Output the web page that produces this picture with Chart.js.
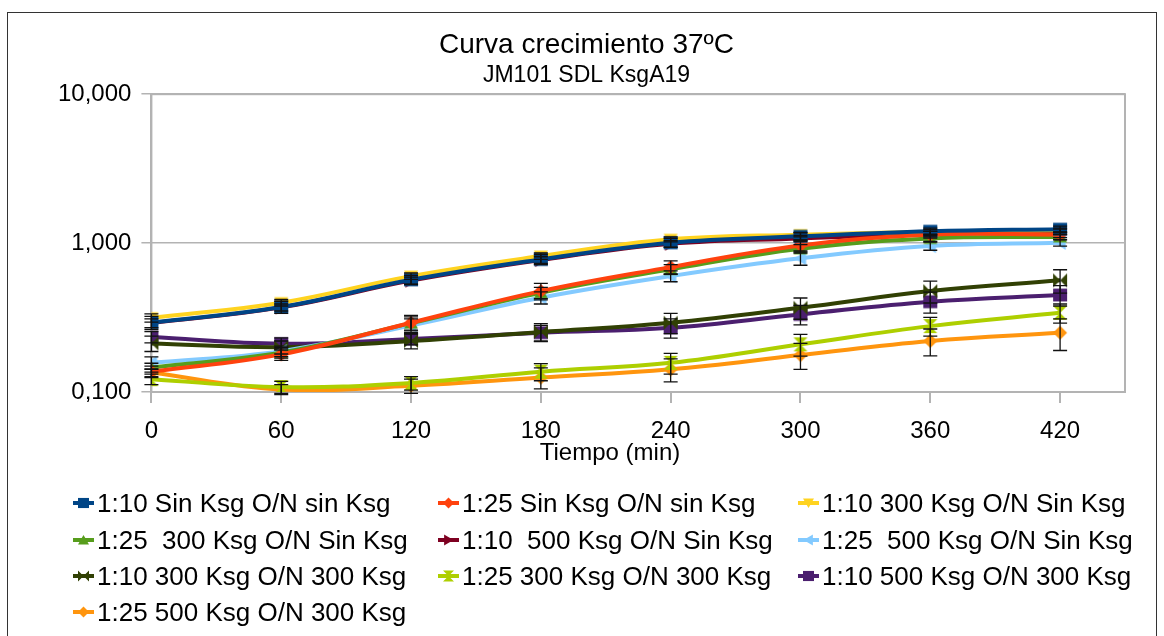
<!DOCTYPE html>
<html>
<head>
<meta charset="utf-8">
<script src="https://cdn.jsdelivr.net/npm/chart.js@4"></script>
<style>
  body { margin: 0; background: #fff; font-family: "Liberation Sans", Arial, sans-serif; }
  #wrap { position: relative; width: 1164px; height: 636px; overflow: hidden; }
  #frame { position: absolute; left: 7px; top: 12px; width: 1150px; height: 700px; border: 1.5px solid #333; box-sizing: border-box; }
  #chart { position: absolute; left: 0; top: 0; }
  #xtitle { position: absolute; left: 610px; top: 438px; transform: translateX(-50%); font-size: 24px; line-height: 28px; white-space: nowrap; }
  .item { position: absolute; height: 36px; display: flex; align-items: center; font-size: 26px; color: #000; white-space: pre; }
  .item canvas { margin-right: 3px; }
</style>
</head>
<body>
<div id="wrap">
  <div id="frame"></div>
  <canvas id="chart" width="1164" height="636"></canvas>
  <div id="xtitle">Tiempo (min)</div>
  <div id="legend"></div>
</div>
<script>
// data
const times = [0, 60, 120, 180, 240, 300, 360, 420];
const yTicks = [0.1, 1, 10];

const labels = [
    '1:10 Sin Ksg O/N sin Ksg', '1:25 Sin Ksg O/N sin Ksg', '1:10 300 Ksg O/N Sin Ksg',
    '1:25  300 Ksg O/N Sin Ksg', '1:10  500 Ksg O/N Sin Ksg', '1:25  500 Ksg O/N Sin Ksg',
    '1:10 300 Ksg O/N 300 Ksg', '1:25 300 Ksg O/N 300 Ksg', '1:10 500 Ksg O/N 300 Ksg',
    '1:25 500 Ksg O/N 300 Ksg'
];

const s1 = [0.292, 0.372, 0.567, 0.777, 1.005, 1.11, 1.2, 1.24];
const s2 = [0.137, 0.179, 0.292, 0.476, 0.69, 0.965, 1.14, 1.14];
const s3 = [0.315, 0.398, 0.60, 0.818, 1.06, 1.14, 1.19, 1.22];
const s4 = [0.146, 0.184, 0.29, 0.464, 0.666, 0.916, 1.075, 1.1];
const s5 = [0.29, 0.37, 0.56, 0.77, 0.99, 1.075, 1.15, 1.19];
const s6 = [0.157, 0.188, 0.28, 0.43, 0.60, 0.79, 0.955, 1.005];
const s7 = [0.212, 0.2, 0.22, 0.253, 0.292, 0.368, 0.476, 0.562];
const s8 = [0.122, 0.108, 0.115, 0.137, 0.157, 0.209, 0.277, 0.34];
const s9 = [0.234, 0.211, 0.227, 0.25, 0.27, 0.332, 0.404, 0.448];
const s10 = [0.135, 0.104, 0.11, 0.125, 0.142, 0.177, 0.22, 0.25];

// error bars (+/-)
const e1 = [0.03, 0.035, 0.04, 0.06, 0.07, 0.06, 0.06, 0.06];
const e2 = [0.012, 0.016, 0.035, 0.06, 0.07, 0.08, 0.06, 0.05];
const e3 = [0.02, 0.02, 0.03, 0.04, 0.04, 0.04, 0.04, 0.04];
const e4 = [0.01, 0.015, 0.03, 0.04, 0.05, 0.06, 0.05, 0.05];
const e5 = [0.02, 0.02, 0.03, 0.04, 0.05, 0.05, 0.05, 0.05];
const e6 = [0.015, 0.015, 0.03, 0.04, 0.05, 0.08, 0.06, 0.05];
const e7 = [0.025, 0.02, 0.025, 0.035, 0.045, 0.06, 0.08, 0.1];
const e8 = [0.01, 0.01, 0.012, 0.018, 0.025, 0.035, 0.04, 0.05];
const e9 = [0.02, 0.02, 0.02, 0.03, 0.04, 0.05, 0.065, 0.07];
const e10 = [0.008, 0.008, 0.012, 0.02, 0.025, 0.035, 0.045, 0.06];

const series = [s1, s2, s3, s4, s5, s6, s7, s8, s9, s10];
const errors = [e1, e2, e3, e4, e5, e6, e7, e8, e9, e10];
const colors = ['#004586', '#ff420e', '#ffd320', '#579d1c', '#7e0021', '#83caff', '#314004', '#aecf00', '#4b1f6f', '#ff950e'];
const markers = ['rect', 'diamond', 'triDown', 'triUp', 'triRight', 'triLeft', 'bowH', 'bowV', 'rect', 'diamond'];

// draw one marker shape into a context
function drawMarker(ctx, type, x, y, r, color) {
    ctx.fillStyle = color;
    ctx.beginPath();
    if (type === 'rect') {
        ctx.rect(x - r, y - r * 0.92, 2 * r, 1.84 * r);
    } else if (type === 'diamond') {
        ctx.moveTo(x, y - r); ctx.lineTo(x + r, y); ctx.lineTo(x, y + r); ctx.lineTo(x - r, y);
    } else if (type === 'triDown') {
        ctx.moveTo(x - r, y - r * 0.8); ctx.lineTo(x + r, y - r * 0.8); ctx.lineTo(x, y + r * 0.9);
    } else if (type === 'triUp') {
        ctx.moveTo(x - r, y + r * 0.8); ctx.lineTo(x + r, y + r * 0.8); ctx.lineTo(x, y - r * 0.9);
    } else if (type === 'triRight') {
        ctx.moveTo(x - r * 0.8, y - r); ctx.lineTo(x - r * 0.8, y + r); ctx.lineTo(x + r * 0.9, y);
    } else if (type === 'triLeft') {
        ctx.moveTo(x + r * 0.8, y - r); ctx.lineTo(x + r * 0.8, y + r); ctx.lineTo(x - r * 0.9, y);
    } else if (type === 'bowH') {
        ctx.moveTo(x - r, y - r); ctx.lineTo(x, y); ctx.lineTo(x - r, y + r);
        ctx.moveTo(x + r, y - r); ctx.lineTo(x, y); ctx.lineTo(x + r, y + r);
    } else if (type === 'bowV') {
        ctx.moveTo(x - r, y - r); ctx.lineTo(x + r, y - r); ctx.lineTo(x, y);
        ctx.moveTo(x - r, y + r); ctx.lineTo(x + r, y + r); ctx.lineTo(x, y);
    }
    ctx.closePath();
    ctx.fill();
}

function markerImage(type, color, r) {
    const c = document.createElement('canvas');
    c.width = c.height = Math.ceil(r * 2 + 2);
    drawMarker(c.getContext('2d'), type, c.width / 2, c.height / 2, r, color);
    return c;
}

Chart.defaults.font.family = '"Liberation Sans", Arial, sans-serif';
Chart.defaults.color = '#000';

// black error bars, drawn over the lines
const errorBars = {
    id: 'errorBars',
    afterDatasetsDraw(chart) {
        const ctx = chart.ctx;
        const y = chart.scales.y;
        ctx.save();
        ctx.strokeStyle = '#111';
        ctx.lineWidth = 1.3;
        chart.data.datasets.forEach((ds, i) => {
            chart.getDatasetMeta(i).data.forEach((pt, j) => {
                const v = ds.data[j].y, e = ds.errors[j];
                const top = y.getPixelForValue(v + e);
                const bot = y.getPixelForValue(v - e);
                ctx.beginPath();
                ctx.moveTo(pt.x, top); ctx.lineTo(pt.x, bot);
                ctx.moveTo(pt.x - 7, top); ctx.lineTo(pt.x + 7, top);
                ctx.moveTo(pt.x - 7, bot); ctx.lineTo(pt.x + 7, bot);
                ctx.stroke();
            });
        });
        ctx.restore();
    }
};

// grey box round the plot area
const plotFrame = {
    id: 'plotFrame',
    beforeDatasetsDraw(chart) {
        const a = chart.chartArea;
        const ctx = chart.ctx;
        ctx.save();
        ctx.strokeStyle = '#b3b3b3';
        ctx.lineWidth = 2;
        ctx.strokeRect(a.left, a.top, a.right - a.left, a.bottom - a.top);
        ctx.restore();
    }
};

const chart = new Chart(document.querySelector('#chart').getContext('2d'), {
    type: 'line',
    data: {
        datasets: series.map((s, i) => ({
            label: labels[i],
            data: times.map((t, j) => ({ x: t, y: s[j] })),
            errors: errors[i],
            borderColor: colors[i],
            backgroundColor: colors[i],
            borderWidth: 4,
            tension: 0.4,
            pointStyle: markerImage(markers[i], colors[i], 7),
            pointRadius: 7
        }))
    },
    options: {
        responsive: false,
        animation: false,
        layout: { padding: { top: 28, left: 48, right: 39, bottom: 177 } },
        plugins: {
            legend: { display: false },
            tooltip: { enabled: false },
            title: {
                display: true,
                text: 'Curva crecimiento 37ºC',
                font: { size: 28, weight: 'normal' },
                padding: { top: 0, bottom: 0 }
            },
            subtitle: {
                display: true,
                text: 'JM101 SDL KsgA19',
                font: { size: 23 },
                padding: { top: 0, bottom: 5 }
            }
        },
        scales: {
            x: {
                type: 'linear',
                min: 0,
                max: 450,
                afterBuildTicks: (axis) => { axis.ticks = times.map(v => ({ value: v })); },
                ticks: { font: { size: 24 }, padding: 13.6, maxRotation: 0 },
                grid: { drawOnChartArea: false, tickLength: 11, color: '#b3b3b3', lineWidth: 2 },
                border: { color: '#b3b3b3', width: 2 }
            },
            y: {
                type: 'logarithmic',
                min: 0.1,
                max: 10,
                afterBuildTicks: (axis) => { axis.ticks = yTicks.map(v => ({ value: v })); },
                ticks: {
                    font: { size: 24 },
                    padding: 10,
                    callback: (v) => Number(v).toFixed(3).replace('.', ',')
                },
                grid: { tickLength: 10, color: '#b3b3b3', lineWidth: 1.5 },
                border: { color: '#b3b3b3', width: 2 }
            }
        }
    },
    plugins: [plotFrame, errorBars]
});

// legend in three columns under the chart
const legend = document.querySelector('#legend');
const colX = [73, 438, 798];
const rowY = [485, 522, 558, 594];
chart.data.datasets.forEach((ds, i) => {
    const item = document.createElement('div');
    item.className = 'item';
    item.style.left = colX[i % 3] + 'px';
    item.style.top = rowY[Math.floor(i / 3)] + 'px';
    const c = document.createElement('canvas');
    c.width = 21; c.height = 20;
    const ctx = c.getContext('2d');
    ctx.strokeStyle = colors[i];
    ctx.lineWidth = 4;
    ctx.beginPath(); ctx.moveTo(0, 10); ctx.lineTo(21, 10); ctx.stroke();
    drawMarker(ctx, markers[i], 10.5, 10, 5.5, colors[i]);
    item.appendChild(c);
    const span = document.createElement('span');
    span.textContent = ds.label;
    item.appendChild(span);
    legend.appendChild(item);
});
</script>
</body>
</html>
